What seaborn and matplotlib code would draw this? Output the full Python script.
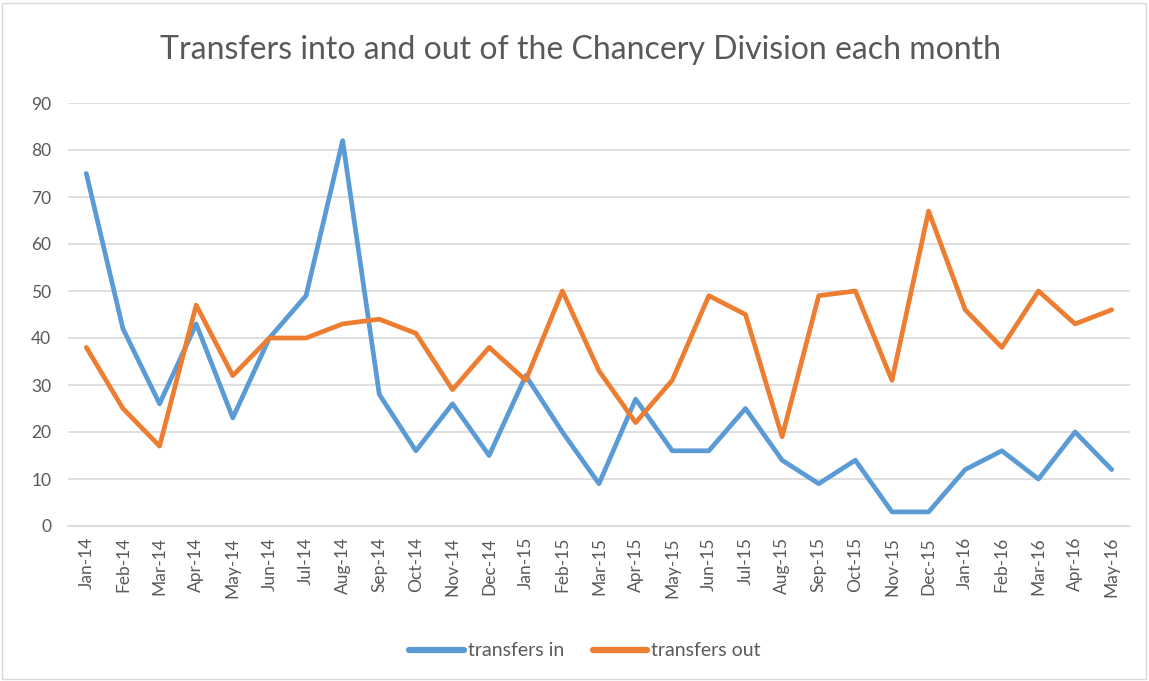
import numpy as np
import pandas as pd
import matplotlib
matplotlib.use("Agg")
import matplotlib.pyplot as plt
import seaborn as sns
from matplotlib.patches import Rectangle

months = ["Jan-14", "Feb-14", "Mar-14", "Apr-14", "May-14", "Jun-14", "Jul-14",
          "Aug-14", "Sep-14", "Oct-14", "Nov-14", "Dec-14", "Jan-15", "Feb-15",
          "Mar-15", "Apr-15", "May-15", "Jun-15", "Jul-15", "Aug-15", "Sep-15",
          "Oct-15", "Nov-15", "Dec-15", "Jan-16", "Feb-16", "Mar-16", "Apr-16",
          "May-16"]
transfers_in = [75, 42, 26, 43, 23, 40, 49, 82, 28, 16, 26, 15, 32, 20, 9, 27,
                16, 16, 25, 14, 9, 14, 3, 3, 12, 16, 10, 20, 12]
transfers_out = [38, 25, 17, 47, 32, 40, 40, 43, 44, 41, 29, 38, 31, 50, 33, 22,
                 31, 49, 45, 19, 49, 50, 31, 67, 46, 38, 50, 43, 46]

df = pd.DataFrame({
    "idx": list(range(len(months))) * 2,
    "value": transfers_in + transfers_out,
    "series": ["transfers in"] * len(months) + ["transfers out"] * len(months),
})

sns.set_style("white")
plt.rcParams["font.family"] = ["Lato", "DejaVu Sans"]

fig = plt.figure(figsize=(11.49, 6.81), dpi=100)
ax = fig.add_axes([68 / 1149, 1 - 526 / 681, (1130 - 68) / 1149, (526 - 103) / 681])

sns.lineplot(data=df, x="idx", y="value", hue="series",
             palette={"transfers in": "#5B9BD5", "transfers out": "#ED7D31"},
             linewidth=3.4, ax=ax, legend=True)
for line in ax.get_lines():
    line.set_solid_joinstyle("round")
    line.set_solid_capstyle("round")

ax.set_xlim(-0.5, len(months) - 0.5)
ax.set_ylim(0, 90)
ax.set_yticks(range(0, 91, 10))
ax.yaxis.grid(True, color="#D9D9D9", linewidth=1.2)
ax.set_axisbelow(True)
for s in ["top", "right", "left"]:
    ax.spines[s].set_visible(False)
ax.spines["bottom"].set_color("#D9D9D9")
ax.spines["bottom"].set_linewidth(1.2)

ax.set_xticks(range(len(months)))
ax.set_xticklabels(months, rotation=90, fontsize=12.5, color="#595959")
ax.set_xticks(np.arange(-0.5, len(months), 1), minor=True)
ax.tick_params(axis="x", which="major", length=0, pad=8)
ax.tick_params(axis="x", which="minor", length=6, color="#D9D9D9", width=1.2)
ax.tick_params(axis="y", length=0, pad=12, labelsize=12.5, labelcolor="#595959")
ax.set_xlabel("")
ax.set_ylabel("")

fig.text(580 / 1149, 1 - 50 / 681, "Transfers into and out of the Chancery Division each month",
         ha="center", va="center", fontsize=23, color="#595959")

handles, labels = ax.get_legend_handles_labels()
for h in handles:
    h.set_linewidth(4.5)
ax.legend(handles, labels, loc="center", bbox_to_anchor=(585 / 1149, 1 - 651 / 681),
          bbox_transform=fig.transFigure, ncol=2, frameon=False, fontsize=14,
          labelcolor="#595959", handlelength=2.8, handletextpad=0.2, columnspacing=1.5)

fig.patches.append(Rectangle((2 / 1149, 2 / 681), 1144 / 1149, 676 / 681,
                             transform=fig.transFigure, fill=False,
                             edgecolor="#D9D9D9", linewidth=1))

fig.savefig("out.png", dpi=100)
